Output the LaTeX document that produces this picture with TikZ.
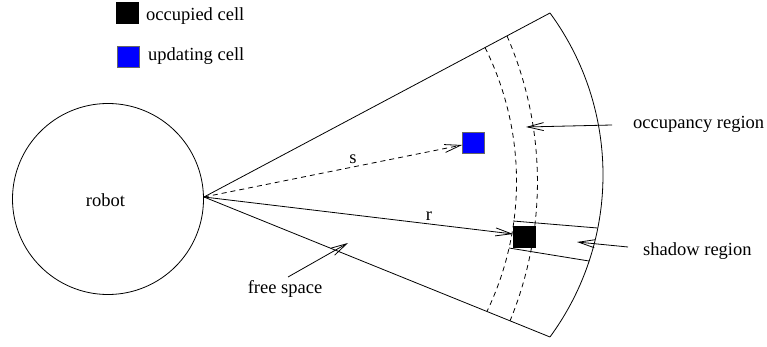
\documentclass[tikz,border=0pt]{standalone}
\usepackage{fontspec}
\setmainfont{Liberation Serif}
\usetikzlibrary{arrows.meta}
\begin{document}
\begin{tikzpicture}[x=1pt,y=-1pt,
  lbl/.style={font=\fontsize{18.5}{21}\selectfont, inner sep=0pt},
  ln/.style={line width=0.8pt},
  dsh/.style={ln, dash pattern=on 5pt off 4pt},
  arr/.style={ln, -{Straight Barb[length=16pt,width=8pt,line width=0.8pt]}},
  dsharr/.style={dsh, -{Straight Barb[length=16pt,width=8pt,line width=0.8pt]}},
  cell/.style={draw, line width=0.8pt, minimum width=22pt, minimum height=21pt, inner sep=0pt}]
\useasboundingbox (0,0) rectangle (767,347);

% legend
\node[cell, fill=black] (legocc) at (127.5,13) {};
\node[lbl, anchor=base west] (legocct) at (146,20.5) {occupied cell};
\node[cell, fill=blue, draw=black!60] (legupd) at (128,56.5) {};
\node[lbl, anchor=base west] (legupdt) at (148,61) {updating cell};

% robot
\node[draw, ln, circle, minimum size=191pt, inner sep=0pt] (robot) at (108,199) {};
\node[lbl, anchor=base] (robott) at (105.5,207) {robot};

% sector
\coordinate (apex) at (204,197);
\coordinate (tc) at (550,13);
\coordinate (bc) at (550,337);
\draw[ln] (apex) -- (tc);
\draw[ln] (apex) -- (bc);
\draw[ln] (tc) arc[start angle=36.24, end angle=-36.24, radius=274pt];

% occupancy band (dashed arcs)
\coordinate (ia) at (485,47.5);
\coordinate (oa) at (507,36);
\draw[dsh] (ia) arc[start angle=26.48, end angle=-25.63, radius=300.5pt];
\draw[dsh] (oa) arc[start angle=23.55, end angle=-22.35, radius=365.4pt];

% cells
\node[cell, fill=black] (occ) at (524.5,237) {};
\node[cell, fill=blue, draw=black!60] (upd) at (473.5,143) {};

% shadow region
\coordinate (sh1a) at (513,221);
\coordinate (sh1b) at (597.5,228);
\coordinate (sh2a) at (509,248);
\coordinate (sh2b) at (589,261);
\draw[ln] (sh1a) -- (sh1b);
\draw[ln] (sh2a) -- (sh2b);

% range arrows
\draw[dsharr] (apex) -- ([yshift=-2pt]upd.west);
\node[lbl, anchor=base] (slbl) at (353,164) {s};
\draw[arr] (apex) -- ([yshift=3pt]occ.west);
\node[lbl, anchor=base] (rlbl) at (429,221) {r};

% labels with arrows
\node[lbl, anchor=base west] (occt) at (633,129) {occupancy region};
\coordinate (occtail) at (612,125);
\coordinate (occtip) at (526,127);
\draw[arr] (occtail) -- (occtip);

\node[lbl, anchor=base west] (shat) at (643,255) {shadow region};
\coordinate (shatail) at (628,247);
\coordinate (shatip) at (577,242);
\draw[arr] (shatail) -- (shatip);

\node[lbl, anchor=base] (freet) at (285,293) {free space};
\coordinate (freetail) at (288,277);
\coordinate (freetip) at (348,243);
\draw[arr] (freetail) -- (freetip);
\end{tikzpicture}
\end{document}
